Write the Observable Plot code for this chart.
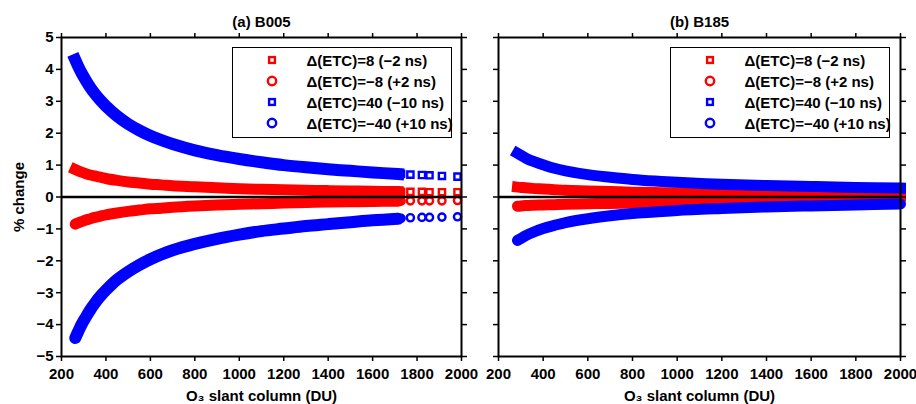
<!DOCTYPE html>
<html><head><meta charset="utf-8">
<script src="https://cdn.jsdelivr.net/npm/d3@7"></script>
<script src="https://cdn.jsdelivr.net/npm/@observablehq/plot@0.6"></script>
<style>
body{margin:0;background:#fff;}
#wrap{position:relative;width:916px;height:404px;font-family:"Liberation Sans",Arial,sans-serif;font-weight:bold;color:#000;}
#plots{display:flex;}
.legend{position:absolute;box-sizing:border-box;border:1.6px solid #000;background:#fff;width:220px;height:91px;}
.row{position:absolute;height:21px;white-space:nowrap;font-size:15px;line-height:21px;}
.mk{position:absolute;}
</style></head><body>
<div id="wrap"><div id="plots"></div></div>
<script>
// ---- labels ----
const panelTitles = ["(a) B005", "(b) B185"];
const xLabel = "O\u2083 slant column (DU)";
const yLabel = "% change";
const xTicks = [200, 400, 600, 800, 1000, 1200, 1400, 1600, 1800, 2000];
const yTicks = [-5, -4, -3, -2, -1, 0, 1, 2, 3, 4, 5];
const seriesLabels = ["\u0394(ETC)=8 (\u22122 ns)", "\u0394(ETC)=\u22128 (+2 ns)", "\u0394(ETC)=40 (\u221210 ns)", "\u0394(ETC)=\u221240 (+10 ns)"];
const seriesColors = ["#ff0000", "#ff0000", "#0000ff", "#0000ff"];
const seriesSymbols = ["square", "circle", "square", "circle"];

// ---- B005 (dense part) ----
const b005X      = [262, 275, 290, 310, 330, 350, 375, 400, 450, 500, 550, 600, 650, 700, 800, 900, 1000, 1100, 1200, 1300, 1400, 1500, 1600, 1715];
const b005RedSq  = [0.86, 0.82, 0.78, 0.73, 0.69, 0.66, 0.62, 0.58, 0.52, 0.47, 0.44, 0.40, 0.38, 0.35, 0.32, 0.29, 0.26, 0.24, 0.23, 0.21, 0.20, 0.19, 0.18, 0.17];
const b005RedCi  = [-0.85, -0.81, -0.77, -0.72, -0.68, -0.64, -0.60, -0.56, -0.50, -0.45, -0.41, -0.37, -0.35, -0.32, -0.28, -0.25, -0.23, -0.21, -0.19, -0.17, -0.16, -0.15, -0.14, -0.13];
const b005BlueSq = [4.30, 4.10, 3.89, 3.65, 3.43, 3.24, 3.03, 2.85, 2.54, 2.29, 2.09, 1.92, 1.78, 1.66, 1.46, 1.31, 1.19, 1.09, 1.00, 0.93, 0.87, 0.82, 0.77, 0.72];
const b005BlueCi = [-4.42, -4.22, -4.00, -3.76, -3.53, -3.33, -3.11, -2.92, -2.59, -2.34, -2.13, -1.95, -1.80, -1.67, -1.47, -1.31, -1.18, -1.07, -0.99, -0.91, -0.85, -0.79, -0.73, -0.68];
// ---- B005 (sparse tail) ----
const b005TailX      = [1728, 1770, 1822, 1856, 1912, 1982];
const b005TailRedSq  = [0.16, 0.16, 0.16, 0.15, 0.15, 0.15];
const b005TailRedCi  = [-0.13, -0.12, -0.12, -0.12, -0.12, -0.11];
const b005TailBlueSq = [0.72, 0.70, 0.69, 0.68, 0.66, 0.64];
const b005TailBlueCi = [-0.67, -0.65, -0.64, -0.64, -0.63, -0.62];

// ---- B185 ----
const b185X      = [285, 300, 320, 350, 400, 450, 500, 600, 700, 800, 900, 1000, 1200, 1400, 1600, 1800, 2000];
const b185RedSq  = [0.31, 0.30, 0.29, 0.27, 0.25, 0.23, 0.21, 0.19, 0.17, 0.15, 0.14, 0.13, 0.11, 0.10, 0.09, 0.08, 0.07];
const b185RedCi  = [-0.29, -0.28, -0.27, -0.26, -0.25, -0.24, -0.23, -0.21, -0.20, -0.19, -0.17, -0.16, -0.14, -0.12, -0.11, -0.10, -0.09];
const b185BlueSq = [1.37, 1.31, 1.23, 1.13, 1.01, 0.90, 0.82, 0.70, 0.62, 0.55, 0.50, 0.46, 0.40, 0.36, 0.33, 0.30, 0.28];
const b185BlueCi = [-1.36, -1.30, -1.22, -1.12, -0.99, -0.89, -0.80, -0.68, -0.59, -0.52, -0.47, -0.42, -0.36, -0.31, -0.28, -0.25, -0.22];

const rows = (xs, ys) => xs.map((x, i) => ({x, y: ys[i]}));
const fmtY = d => d < 0 ? "\u2212" + Math.abs(d) : String(d);

const panels = [
  {title: panelTitles[0], width: 470, ml: 61, mr: 9, yLabels: true, legendLeft: 232,
   dense: [b005RedSq, b005RedCi, b005BlueSq, b005BlueCi], x: b005X, bw: [11, 11, 12, 12],
   tailX: b005TailX, tail: [b005TailRedSq, b005TailRedCi, b005TailBlueSq, b005TailBlueCi]},
  {title: panelTitles[1], width: 446, ml: 28, mr: 16, yLabels: false, legendLeft: 670,
   dense: [b185RedSq, b185RedCi, b185BlueSq, b185BlueCi], x: b185X, bw: [11, 11, 11, 11],
   tailX: null, tail: null}
];

const host = document.getElementById("plots");
const wrap = document.getElementById("wrap");

for (const p of panels) {
  const marks = [];
  for (let s = 0; s < 4; s++) {
    marks.push(Plot.line(rows(p.x, p.dense[s]), {
      x: "x", y: "y", stroke: seriesColors[s], strokeWidth: p.bw[s],
      curve: "catmull-rom", strokeLinecap: seriesSymbols[s] === "circle" ? "round" : "square"
    }));
    if (p.tailX) {
      marks.push(Plot.dot(rows(p.tailX, p.tail[s]), {
        x: "x", y: "y", stroke: seriesColors[s], strokeWidth: 2.4, fill: "none",
        symbol: seriesSymbols[s], r: seriesSymbols[s] === "square" ? 3.5 : 3.6
      }));
    }
  }
  marks.push(Plot.ruleY([0], {stroke: "black", strokeWidth: 2.5}));
  marks.push(Plot.axisX({anchor: "bottom", ticks: xTicks, tickSize: 5, tickPadding: 7, strokeWidth: 1.5,
    tickFormat: d => String(d), label: xLabel, labelAnchor: "center", labelArrow: false, labelOffset: 44}));
  marks.push(Plot.axisX({anchor: "top", ticks: xTicks, tickSize: 5, strokeWidth: 1.5, tickFormat: () => "", label: null}));
  marks.push(Plot.axisY({anchor: "left", ticks: yTicks, tickSize: 5, tickPadding: 3, strokeWidth: 1.5,
    tickFormat: p.yLabels ? fmtY : () => "", label: p.yLabels ? yLabel : null, labelAnchor: "center", labelArrow: false, labelOffset: 48}));
  marks.push(Plot.axisY({anchor: "right", ticks: yTicks, tickSize: 5, strokeWidth: 1.5, tickFormat: () => "", label: null}));
  marks.push(Plot.frame({stroke: "black", strokeWidth: 2}));
  marks.push(Plot.text([p.title], {text: d => d, frameAnchor: "top", dy: -15, lineAnchor: "middle", fontWeight: "bold", fontSize: 15}));

  const chart = Plot.plot({
    width: p.width, height: 404,
    marginLeft: p.ml, marginRight: p.mr, marginTop: 37, marginBottom: 48,
    x: {domain: [200, 2000]},
    y: {domain: [-5, 5]},
    style: {fontFamily: "'Liberation Sans', Arial, sans-serif", fontWeight: "bold", fontSize: "15px", color: "black", background: "transparent", overflow: "visible"},
    marks
  });
  host.appendChild(chart);

  // legend
  const lg = document.createElement("div");
  lg.className = "legend";
  lg.style.left = p.legendLeft + "px";
  lg.style.top = "47px";
  seriesLabels.forEach((lab, i) => {
    const cy = 14 + i * 21;
    const mk = document.createElementNS("http://www.w3.org/2000/svg", "svg");
    mk.setAttribute("width", 14); mk.setAttribute("height", 14);
    mk.setAttribute("class", "mk");
    mk.style.left = (41 - 7 - 1.6) + "px";
    mk.style.top = (cy - 7 - 1.6) + "px";
    let sh;
    if (seriesSymbols[i] === "square") {
      sh = document.createElementNS("http://www.w3.org/2000/svg", "rect");
      sh.setAttribute("x", 4.1); sh.setAttribute("y", 4.1); sh.setAttribute("width", 5.8); sh.setAttribute("height", 5.8);
    } else {
      sh = document.createElementNS("http://www.w3.org/2000/svg", "circle");
      sh.setAttribute("cx", 7); sh.setAttribute("cy", 7); sh.setAttribute("r", 4.2);
    }
    sh.setAttribute("fill", "none"); sh.setAttribute("stroke", seriesColors[i]); sh.setAttribute("stroke-width", 2.4);
    mk.appendChild(sh);
    lg.appendChild(mk);
    const t = document.createElement("div");
    t.className = "row";
    t.textContent = lab;
    t.style.left = (75 - 1.6) + "px";
    t.style.top = (cy - 10.5 - 1.6) + "px";
    lg.appendChild(t);
  });
  wrap.appendChild(lg);
}
</script></body></html>
